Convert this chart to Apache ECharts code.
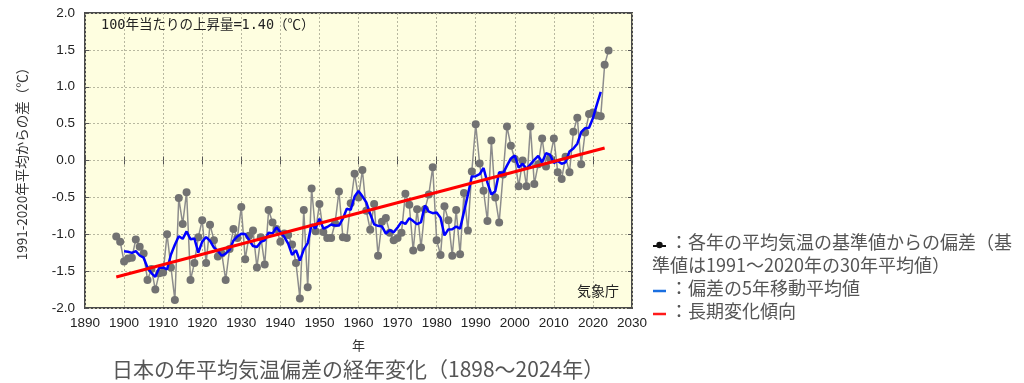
<!DOCTYPE html>
<html>
<head>
<meta charset="utf-8">
<script src="https://cdn.jsdelivr.net/npm/echarts@6/dist/echarts.min.js"></script>
<style>
html,body{margin:0;padding:0;background:#fff;}
#c{width:1024px;height:383px;}
</style>
</head>
<body>
<div id="c"></div>
<script>
// ---- data ----
const firstYear = 1898;
// Annual mean temperature anomaly in Japan (deg C, vs 1991-2020 mean), 1898..2024
const anomalies = [
  -1.03,-1.10,-1.37,-1.33,-1.32,-1.07,-1.17,-1.26,-1.62,-1.47,
  -1.75,-1.53,-1.52,-1.00,-1.45,-1.89,-0.51,-0.86,-0.43,-1.62,
  -1.39,-1.04,-0.81,-1.39,-0.87,-1.08,-1.30,-1.26,-1.62,-1.20,
  -0.93,-1.05,-0.63,-1.34,-1.02,-0.95,-1.45,-1.04,-1.41,-0.67,
  -0.84,-0.93,-1.10,-0.99,-1.01,-1.14,-1.39,-1.87,-0.67,-1.72,
  -0.38,-0.96,-0.59,-0.97,-1.05,-1.05,-0.85,-0.42,-1.04,-1.05,
  -0.58,-0.18,-0.50,-0.13,-0.68,-0.94,-0.59,-1.29,-0.83,-0.78,
  -0.98,-1.08,-1.05,-0.98,-0.45,-0.60,-1.22,-0.66,-1.18,-0.66,
  -0.46,-0.09,-1.08,-1.28,-0.62,-0.81,-1.29,-0.67,-1.27,-0.44,
  -0.95,-0.15, 0.49,-0.04,-0.41,-0.82, 0.27,-0.50,-0.84,-0.19,
   0.46, 0.20, 0.02,-0.35, 0.00,-0.35, 0.46,-0.32,-0.05, 0.30,
  -0.08, 0.03, 0.30,-0.16,-0.25, 0.05,-0.16, 0.39, 0.58,-0.05,
   0.38, 0.63, 0.65, 0.61, 0.60, 1.30, 1.49
];
const movingWindow = 5;               // 5-year running mean
const trendYears  = [1898, 2023];     // long-term trend line ends
const trendValues = [-1.58, 0.17];
const xTicks = {min: 1890, max: 2030, interval: 10};
const yTicks = {min: -2.0, max: 2.0, interval: 0.5};

// ---- derived ----
const years = anomalies.map((v, i) => firstYear + i);
const points = anomalies.map((v, i) => [years[i], v]);
const half = Math.floor(movingWindow / 2);
const running = [];
for (let i = half; i < anomalies.length - half; i++) {
  let s = 0;
  for (let k = -half; k <= half; k++) s += anomalies[i + k];
  running.push([years[i], +(s / movingWindow).toFixed(3)]);
}
const trend = trendYears.map((y, i) => [y, trendValues[i]]);

const chart = echarts.init(document.getElementById('c'), null, {renderer: 'canvas'});
const labelFont = '"Liberation Sans", Arial, sans-serif';
const jpFont = '"Noto Sans CJK JP", "Noto Sans", sans-serif';
const grid = {left: 85, right: 392, top: 13, bottom: 75};

chart.setOption({
  animation: false,
  backgroundColor: '#ffffff',
  grid: Object.assign({show: true, backgroundColor: '#fefee0', borderColor: '#4a4a4a', borderWidth: 2}, grid),
  xAxis: [{
    type: 'value', min: xTicks.min, max: xTicks.max, interval: xTicks.interval,
    position: 'bottom',
    name: '年', nameLocation: 'middle', nameGap: 31,
    nameTextStyle: {fontFamily: jpFont, fontSize: 13, color: '#333'},
    axisLine: {show: false},
    axisTick: {show: true, inside: true, length: 4, lineStyle: {color: '#555'}},
    axisLabel: {fontFamily: labelFont, fontSize: 13.5, color: '#222', margin: 8,
      showMaxLabel: true, showMinLabel: true, formatter: v => String(v)},
    splitLine: {show: true, lineStyle: {type: [2, 2], color: '#b8b8a0', width: 1}}
  }, {
    type: 'value', min: xTicks.min, max: xTicks.max, interval: xTicks.interval,
    position: 'top',
    axisLine: {show: false},
    axisTick: {show: true, inside: true, length: 4, lineStyle: {color: '#555'}},
    axisLabel: {show: false}, splitLine: {show: false}
  }],
  yAxis: [{
    type: 'value', min: yTicks.min, max: yTicks.max, interval: yTicks.interval,
    position: 'left',
    name: '1991-2020年平均からの差（℃）', nameLocation: 'middle', nameGap: 56, nameRotate: 90,
    nameTextStyle: {fontFamily: jpFont, fontSize: 13.5, color: '#333'},
    axisLine: {show: false},
    axisTick: {show: true, inside: true, length: 4, lineStyle: {color: '#555'}},
    axisLabel: {fontFamily: labelFont, fontSize: 13.5, color: '#222', margin: 10,
      formatter: v => v.toFixed(1)},
    splitLine: {show: true, lineStyle: {type: [2, 2], color: '#b8b8a0', width: 1}}
  }, {
    type: 'value', min: yTicks.min, max: yTicks.max, interval: yTicks.interval,
    position: 'right',
    axisLine: {show: false},
    axisTick: {show: true, inside: true, length: 4, lineStyle: {color: '#555'}},
    axisLabel: {show: false}, splitLine: {show: false}
  }],
  series: [{
    name: 'anomaly', type: 'line', data: points,
    symbol: 'circle', symbolSize: 8, showAllSymbol: true,
    itemStyle: {color: '#727272'},
    lineStyle: {color: '#8c8c8c', width: 1.5},
    z: 2
  }, {
    name: 'running', type: 'line', data: running,
    showSymbol: false, symbol: 'none',
    lineStyle: {color: '#0000ff', width: 2.5},
    z: 3
  }, {
    name: 'trend', type: 'line', data: trend,
    showSymbol: false, symbol: 'none',
    lineStyle: {color: '#ff0000', width: 3},
    z: 4
  }],
  graphic: [
    {type: 'text', left: 101, top: 19, z: 10,
      style: {text: '100年当たりの上昇量=1.40（℃）', font: '13.5px "DejaVu Sans Mono", "Noto Sans CJK JP", monospace', fill: '#222'}},
    {type: 'text', left: 577, top: 284, z: 10,
      style: {text: '気象庁', font: '14px "Noto Sans CJK JP", sans-serif', fill: '#222'}},
    {type: 'text', left: 112, top: 359, z: 10,
      style: {text: '日本の年平均気温偏差の経年変化（1898～2024年）', font: '21px "Noto Sans CJK JP", sans-serif', fill: '#555'}},
    // legend
    {type: 'line', shape: {x1: 653, y1: 246, x2: 666, y2: 246}, style: {stroke: '#111', lineWidth: 2}},
    {type: 'circle', shape: {cx: 659.5, cy: 245, r: 3.2}, style: {fill: '#111'}},
    {type: 'text', left: 670, top: 233, style: {text: '：各年の平均気温の基準値からの偏差（基', font: '18px "Noto Sans CJK JP", sans-serif', fill: '#555'}},
    {type: 'text', left: 652, top: 256, style: {text: '準値は1991～2020年の30年平均値）', font: '18px "Noto Sans CJK JP", sans-serif', fill: '#555'}},
    {type: 'line', shape: {x1: 653, y1: 291, x2: 666, y2: 291}, style: {stroke: '#1a6fe0', lineWidth: 2.5}},
    {type: 'text', left: 670, top: 279, style: {text: '：偏差の5年移動平均値', font: '18px "Noto Sans CJK JP", sans-serif', fill: '#555'}},
    {type: 'line', shape: {x1: 653, y1: 314, x2: 666, y2: 314}, style: {stroke: '#ff1a1a', lineWidth: 2.5}},
    {type: 'text', left: 670, top: 302, style: {text: '：長期変化傾向', font: '18px "Noto Sans CJK JP", sans-serif', fill: '#555'}}
  ]
});
</script>
</body>
</html>
